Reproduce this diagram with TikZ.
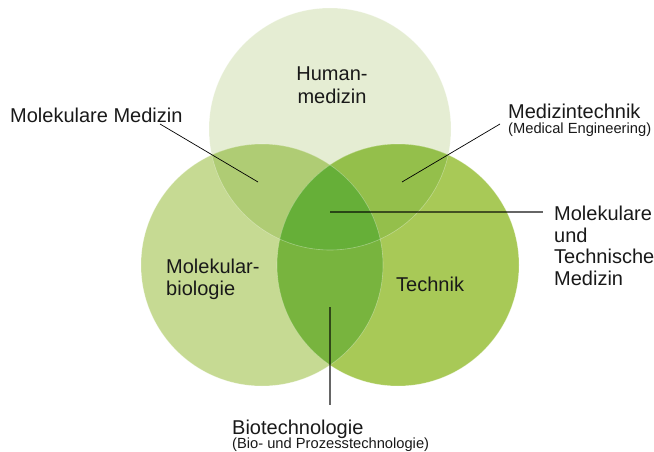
\documentclass[tikz,border=0pt]{standalone}
\usepackage{fontspec}
\setmainfont{Liberation Sans}
\definecolor{cTop}{HTML}{E5EDD3}
\definecolor{cLeft}{HTML}{C6DA93}
\definecolor{cRight}{HTML}{A8C957}
\definecolor{cTL}{HTML}{AFCC74}
\definecolor{cTR}{HTML}{94BF4B}
\definecolor{cLR}{HTML}{78B43E}
\definecolor{cAll}{HTML}{66AF38}
\tikzset{
  lbl/.style={inner sep=0pt, anchor=base west, font=\fontsize{20}{22}\selectfont, text=black!90},
  sublbl/.style={inner sep=0pt, anchor=base west, font=\fontsize{14.7}{16}\selectfont, text=black!90},
  thinlead/.style={draw=black, line width=0.7pt},
  graylead/.style={draw=black, draw opacity=0.6, line width=1.3pt},
  rim/.style={draw=white, draw opacity=0.35, line width=0.6pt}
}
\begin{document}
\begin{tikzpicture}[x=1pt,y=-1pt]
\useasboundingbox (0,0) rectangle (654,452);
\def\R{121}
\coordinate (T) at (330,129);
\coordinate (L) at (262,265);
\coordinate (Rt) at (398,265);
% base circles
\fill[cTop] (T) circle (\R);
\fill[cLeft] (L) circle (\R);
\fill[cRight] (Rt) circle (\R);
% pairwise overlaps
\begin{scope}\clip (T) circle (\R); \fill[cTL] (L) circle (\R); \end{scope}
\begin{scope}\clip (T) circle (\R); \fill[cTR] (Rt) circle (\R); \end{scope}
\begin{scope}\clip (L) circle (\R); \fill[cLR] (Rt) circle (\R); \end{scope}
\begin{scope}\clip (T) circle (\R); \clip (L) circle (\R); \fill[cAll] (Rt) circle (\R); \end{scope}
% faint rims
\draw[rim] (T) circle (\R);
\draw[rim] (L) circle (\R);
\draw[rim] (Rt) circle (\R);
% labels in circles
\node[lbl, anchor=base] (human) at (332,81) {Human-};
\node[lbl, anchor=base] (humanb) at (332,103) {medizin};
\node[lbl] (molbio) at (166,273) {Molekular-};
\node[lbl] (molbiob) at (166,295) {biologie};
\node[lbl] (technik) at (396,291) {Technik};
% outer labels
\node[lbl] (molmed) at (10,122) {Molekulare Medizin};
\node[lbl] (medtech) at (508,118) {Medizintechnik};
\node[sublbl] (medtechb) at (508,134) {(Medical Engineering)};
\node[lbl] (mtm1) at (554,220) {Molekulare};
\node[lbl] (mtm2) at (554,242) {und};
\node[lbl] (mtm3) at (554,263) {Technische};
\node[lbl] (mtm4) at (554,285) {Medizin};
\node[lbl] (biotech) at (232,434) {Biotechnologie};
\node[sublbl] (biotechb) at (232,448) {(Bio- und Prozesstechnologie)};
% leader coordinates
\coordinate (a1) at (160,124); \coordinate (a2) at (258,182);
\coordinate (b1) at (500,124); \coordinate (b2) at (402,182);
\coordinate (c1) at (330,212); \coordinate (c2) at (543,212);
\coordinate (d1) at (330,307); \coordinate (d2) at (330,405);
\draw[thinlead] (a1) -- (a2);
\draw[thinlead] (b1) -- (b2);
\draw[graylead] (c1) -- (c2);
\draw[graylead] (d1) -- (d2);
\end{tikzpicture}
\end{document}
